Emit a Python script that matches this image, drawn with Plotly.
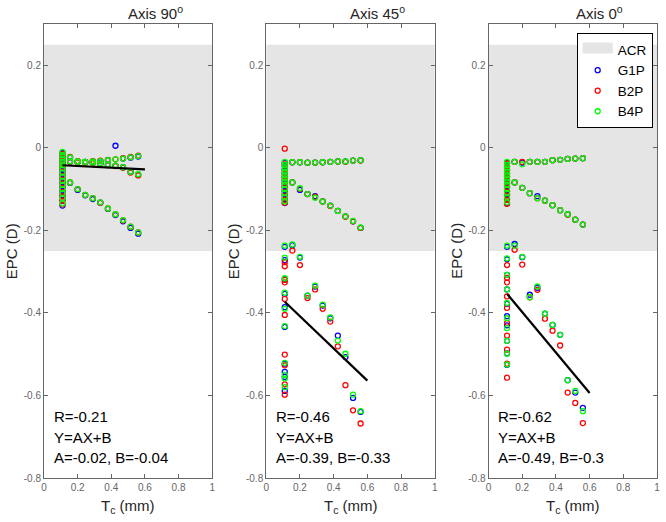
import plotly.graph_objects as go

# ---------------- data ----------------
TC_COL = 0.11
TC_BRANCH = [0.155, 0.2, 0.245, 0.29, 0.335, 0.38, 0.425, 0.47, 0.515, 0.56]

PANEL_TITLES = ["Axis 90<sup>o</sup>", "Axis 45<sup>o</sup>", "Axis 0<sup>o</sup>"]
SERIES_NAMES = ["G1P", "B2P", "B4P"]
SERIES_COLORS = ["#0000ff", "#ff0000", "#00ff00"]

ACR_LOW, ACR_HIGH = -0.25, 0.25

# Axis 90 : column(14) + upper1(10) + upper2(10) + lower(10)
A90_TC = [TC_COL] * 14 + TC_BRANCH * 3
A90_G1P = [-0.012, -0.020, -0.028, -0.036, -0.045, -0.054, -0.064, -0.074, -0.084, -0.094, -0.104, -0.115, -0.126, -0.140,
           -0.023, -0.033, -0.034, -0.033, -0.032, -0.030, 0.005, -0.026, -0.024, -0.021,
           -0.033, -0.034, -0.035, -0.036, -0.038, -0.041, -0.043, -0.047, -0.058, -0.065,
           -0.085, -0.102, -0.115, -0.124, -0.133, -0.148, -0.163, -0.178, -0.194, -0.208]
A90_B2P = [-0.015, -0.022, -0.031, -0.040, -0.048, -0.058, -0.068, -0.077, -0.087, -0.097, -0.108, -0.118, -0.128, -0.137,
           -0.022, -0.032, -0.034, -0.032, -0.031, -0.029, -0.028, -0.025, -0.022, -0.019,
           -0.034, -0.035, -0.036, -0.037, -0.039, -0.042, -0.044, -0.048, -0.060, -0.067,
           -0.084, -0.100, -0.114, -0.122, -0.133, -0.147, -0.161, -0.176, -0.191, -0.205]
A90_B4P = [-0.010, -0.018, -0.026, -0.034, -0.042, -0.050, -0.060, -0.070, -0.080, -0.090, -0.100, -0.110, -0.122, -0.135,
           -0.023, -0.033, -0.034, -0.033, -0.032, -0.030, -0.028, -0.026, -0.023, -0.020,
           -0.033, -0.034, -0.035, -0.036, -0.038, -0.041, -0.043, -0.047, -0.058, -0.064,
           -0.084, -0.100, -0.114, -0.122, -0.132, -0.147, -0.161, -0.175, -0.191, -0.205]

# Axis 45 : column gray(12) + column white(10) + upper(10) + lower gray(10) + lower white(10)
A45_TC = [TC_COL] * 22 + TC_BRANCH * 3
A45_G1P = [-0.036, -0.044, -0.053, -0.061, -0.069, -0.077, -0.085, -0.094, -0.104, -0.114, -0.124, -0.134,
           -0.240, -0.272, -0.318, -0.354, -0.386, -0.434, -0.523, -0.543, -0.555, -0.589,
           -0.035, -0.035, -0.036, -0.036, -0.035, -0.034, -0.033, -0.033, -0.031, -0.030,
           -0.084, -0.102, -0.112, -0.117, -0.130, -0.140, -0.153, -0.166, -0.178, -0.194,
           -0.236, -0.266, -0.358, -0.336, -0.382, -0.413, -0.455, -0.507, -0.606, -0.640]
A45_B2P = [-0.002, -0.040, -0.052, -0.062, -0.072, -0.080, -0.090, -0.098, -0.108, -0.118, -0.126, -0.133,
           -0.277, -0.287, -0.320, -0.326, -0.366, -0.405, -0.501, -0.527, -0.573, -0.598,
           -0.035, -0.035, -0.036, -0.036, -0.035, -0.034, -0.033, -0.034, -0.031, -0.031,
           -0.084, -0.099, -0.112, -0.119, -0.130, -0.141, -0.153, -0.167, -0.178, -0.194,
           -0.249, -0.284, -0.364, -0.343, -0.390, -0.421, -0.481, -0.575, -0.636, -0.668]
A45_B4P = [-0.034, -0.042, -0.050, -0.058, -0.066, -0.074, -0.082, -0.090, -0.100, -0.110, -0.120, -0.130,
           -0.237, -0.266, -0.316, -0.351, -0.390, -0.432, -0.521, -0.550, -0.559, -0.580,
           -0.035, -0.035, -0.036, -0.036, -0.035, -0.034, -0.033, -0.033, -0.031, -0.030,
           -0.084, -0.098, -0.112, -0.121, -0.130, -0.140, -0.153, -0.166, -0.177, -0.193,
           -0.234, -0.264, -0.358, -0.334, -0.380, -0.411, -0.467, -0.499, -0.598, -0.638]

# Axis 0 : same layout as Axis 45
A0_TC = [TC_COL] * 22 + TC_BRANCH * 3
A0_G1P = [-0.036, -0.044, -0.053, -0.061, -0.069, -0.077, -0.085, -0.094, -0.104, -0.114, -0.124, -0.134,
          -0.240, -0.270, -0.308, -0.343, -0.378, -0.408, -0.430, -0.468, -0.498, -0.526,
          -0.034, -0.036, -0.034, -0.034, -0.034, -0.030, -0.029, -0.027, -0.026, -0.025,
          -0.084, -0.097, -0.110, -0.117, -0.128, -0.139, -0.151, -0.161, -0.174, -0.186,
          -0.233, -0.265, -0.356, -0.339, -0.402, -0.429, -0.453, -0.563, -0.593, -0.630]
A0_B2P = [-0.038, -0.046, -0.055, -0.063, -0.070, -0.079, -0.088, -0.096, -0.106, -0.116, -0.126, -0.136,
          -0.284, -0.315, -0.326, -0.360, -0.388, -0.424, -0.455, -0.489, -0.523, -0.557,
          -0.034, -0.034, -0.034, -0.034, -0.034, -0.030, -0.029, -0.027, -0.026, -0.025,
          -0.084, -0.097, -0.110, -0.122, -0.128, -0.139, -0.151, -0.162, -0.174, -0.186,
          -0.247, -0.283, -0.362, -0.344, -0.414, -0.443, -0.479, -0.593, -0.618, -0.667]
A0_B4P = [-0.034, -0.042, -0.050, -0.058, -0.066, -0.074, -0.082, -0.090, -0.100, -0.110, -0.120, -0.132,
          -0.237, -0.268, -0.308, -0.343, -0.376, -0.413, -0.437, -0.468, -0.499, -0.525,
          -0.034, -0.040, -0.034, -0.034, -0.034, -0.030, -0.029, -0.027, -0.026, -0.025,
          -0.084, -0.097, -0.110, -0.122, -0.128, -0.139, -0.151, -0.161, -0.174, -0.186,
          -0.237, -0.264, -0.362, -0.336, -0.402, -0.429, -0.453, -0.563, -0.589, -0.638]

# regression results shown in each panel
FIT_R = [-0.21, -0.46, -0.62]
FIT_A = [-0.02, -0.39, -0.49]
FIT_B = [-0.04, -0.33, -0.3]
FIT_X = [0.11, 0.6]

X_TICKS = [0, 0.2, 0.4, 0.6, 0.8, 1]
X_TICKTEXT = ["0", "0.2", "0.4", "0.6", "0.8", "1"]
Y_TICKS = [-0.8, -0.6, -0.4, -0.2, 0, 0.2]
Y_TICKTEXT = ["-0.8", "-0.6", "-0.4", "-0.2", "0", "0.2"]

# ---------------- figure ----------------
FONT = "Liberation Sans, Arial, sans-serif"
W, H = 666, 522
ML, MR, MT, MB = 44, 6, 24, 44
PW = W - ML - MR
PH = H - MT - MB
ACR_COLOR = "#e5e5e5"

panel_px = [(44, 213), (267.3, 436.7), (490.7, 660)]
domains = [[(a - ML) / PW, (b - ML) / PW] for a, b in panel_px]

panels = [
    (A90_TC, [A90_G1P, A90_B2P, A90_B4P]),
    (A45_TC, [A45_G1P, A45_B2P, A45_B4P]),
    (A0_TC, [A0_G1P, A0_B2P, A0_B4P]),
]

fig = go.Figure()

# legend entry for the ACR band (patch-like icon)
fig.add_trace(go.Scatter(
    x=[None], y=[None], fill="toself", fillcolor=ACR_COLOR, mode="lines",
    line=dict(width=10, color=ACR_COLOR), name="ACR", showlegend=True,
    hoverinfo="skip", xaxis="x3", yaxis="y3"))

# ACR bands
for i in range(3):
    ax = "" if i == 0 else str(i + 1)
    fig.add_trace(go.Scatter(
        x=[0, 1, 1, 0, 0], y=[ACR_LOW, ACR_LOW, ACR_HIGH, ACR_HIGH, ACR_LOW],
        fill="toself", fillcolor=ACR_COLOR, mode="lines", line=dict(width=0, color=ACR_COLOR),
        name="ACR", showlegend=False, hoverinfo="skip",
        xaxis="x" + ax, yaxis="y" + ax))

for i, (tc, series) in enumerate(panels):
    ax = "" if i == 0 else str(i + 1)
    for s, (name, color) in enumerate(zip(SERIES_NAMES, SERIES_COLORS)):
        fig.add_trace(go.Scatter(
            x=tc, y=series[s], mode="markers", name=name, showlegend=(i == 0),
            marker=dict(symbol="circle-open", size=5, color=color, line=dict(width=1.3, color=color)),
            xaxis="x" + ax, yaxis="y" + ax))
    fig.add_trace(go.Scatter(
        x=FIT_X, y=[FIT_A[i] * x + FIT_B[i] for x in FIT_X], mode="lines",
        line=dict(color="black", width=2.2), showlegend=False, hoverinfo="skip",
        xaxis="x" + ax, yaxis="y" + ax))

layout = dict(
    width=W, height=H, margin=dict(l=ML, r=MR, t=MT, b=MB),
    paper_bgcolor="white", plot_bgcolor="white",
    font=dict(family=FONT, size=10, color="#333333"),
    showlegend=True,
    legend=dict(x=(579.3 - ML) / PW, y=1 - (33.3 - MT) / PH, xanchor="left", yanchor="top",
                bgcolor="white", bordercolor="black", borderwidth=1,
                font=dict(family=FONT, size=13.5, color="black"),
                tracegroupgap=0, itemwidth=30),
)

annotations = []
for i in range(3):
    ax = "" if i == 0 else str(i + 1)
    layout["xaxis" + ax] = dict(
        domain=domains[i], range=[0, 1], anchor="y" + ax,
        tickvals=X_TICKS, ticktext=X_TICKTEXT, ticks="inside", ticklen=4, tickcolor="#666666",
        showline=True, linecolor="#666666", linewidth=1, mirror="ticks",
        showgrid=False, zeroline=False, tickfont=dict(size=10, color="#666666", family=FONT))
    layout["yaxis" + ax] = dict(
        domain=[0, 1], range=[-0.8, 0.3], anchor="x" + ax,
        tickvals=Y_TICKS, ticktext=Y_TICKTEXT, ticks="inside", ticklen=4, tickcolor="#666666",
        showline=True, linecolor="#666666", linewidth=1, mirror="ticks",
        showgrid=False, zeroline=False, tickfont=dict(size=10, color="#666666", family=FONT))

    a, b = panel_px[i]
    # panel title
    annotations.append(dict(text=PANEL_TITLES[i], xref="paper", yref="paper",
                            x=(a + 112 - ML) / PW, y=1 + (MT - 13) / PH,
                            xanchor="center", yanchor="middle", showarrow=False,
                            font=dict(size=15, color="#262626", family=FONT)))
    # y title
    annotations.append(dict(text="EPC (D)", xref="paper", yref="paper",
                            x=(a - 33 - ML) / PW, y=0.5, textangle=-90,
                            xanchor="center", yanchor="middle", showarrow=False,
                            font=dict(size=15, color="#262626", family=FONT)))
    # x title
    annotations.append(dict(text="T<sub>c</sub> (mm)", xref="paper", yref="paper",
                            x=((a + b) / 2 - ML) / PW, y=-(506 - (H - MB)) / PH,
                            xanchor="center", yanchor="middle", showarrow=False,
                            font=dict(size=15, color="#262626", family=FONT)))
    # fit text
    lines = ["R=%s" % FIT_R[i], "Y=AX+B", "A=%s, B=%s" % (FIT_A[i], FIT_B[i])]
    for k, (txt, yy) in enumerate(zip(lines, [-0.650, -0.702, -0.751])):
        annotations.append(dict(text=txt, xref="x" + ax, yref="y" + ax, x=0.045, y=yy,
                                xanchor="left", yanchor="middle", showarrow=False,
                                font=dict(size=15, color="black", family=FONT)))

layout["annotations"] = annotations
fig.update_layout(**layout)

fig.write_html("out.html", config={"displayModeBar": False},
               post_script="document.body.style.margin='0px';document.body.style.overflow='hidden';")
